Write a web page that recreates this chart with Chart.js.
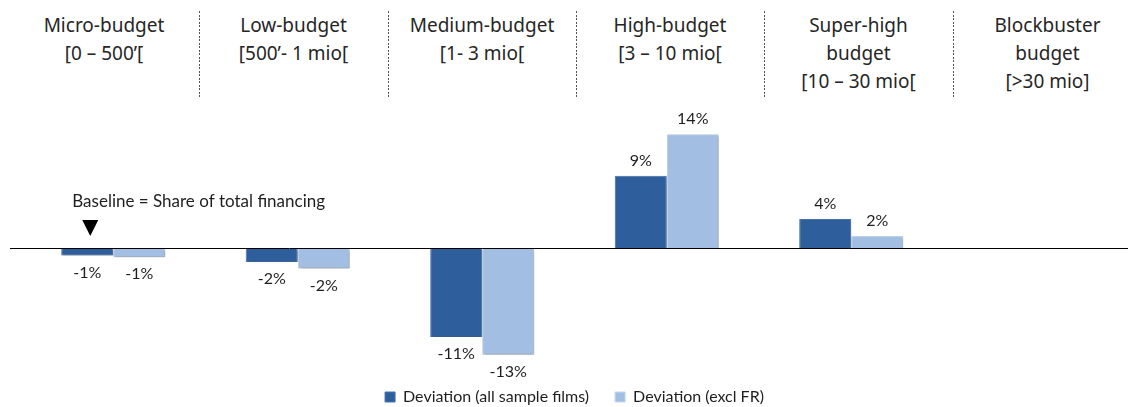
<!DOCTYPE html>
<html>
<head>
<meta charset="utf-8">
<script src="https://cdn.jsdelivr.net/npm/chart.js@4.4.1/dist/chart.umd.min.js"></script>
<style>
    html, body { margin: 0; padding: 0; width: 1128px; height: 407px; overflow: hidden; background: #fff; }
    #chartCanvas { position: absolute; left: 0; top: 0; }
    .hdr { position: absolute; top: 10.5px; text-align: center; font-family: "Noto Sans"; font-size: 19px; line-height: 28px; color: #262626; }
    .sep { position: absolute; top: 11px; width: 1px; height: 87px;
           background: repeating-linear-gradient(to bottom, #555 0 2px, transparent 2px 3.5px); }
</style>
</head>
<body>
<div id="header"></div>
<canvas id="chartCanvas" width="1128" height="415"></canvas>
<script>
// categories and their header text
const categories = ['Micro-budget', 'Low-budget', 'Medium-budget', 'High-budget', 'Super-high budget', 'Blockbuster budget'];
const headerLines = [
    ['Micro-budget', '[0 \u2013 500\u2019['],
    ['Low-budget', '[500\u2019- 1 mio['],
    ['Medium-budget', '[1- 3 mio['],
    ['High-budget', '[3 \u2013 10 mio['],
    ['Super-high', 'budget', '[10 \u2013 30 mio['],
    ['Blockbuster', 'budget', '[>30 mio]']
];

// deviation in percentage points
const devAllFilms = [-0.8, -1.6, -10.8, 9.0, 3.7, null];
const devExclFR = [-1.0, -2.4, -13.0, 14.1, 1.6, null];

const seriesNames = ['Deviation (all sample films)', 'Deviation (excl FR)'];
const baselineNote = 'Baseline = Share of total financing';

// header column edges (px)
const colEdges = [9, 199, 388, 576, 764, 953, 1142];

function buildHeader() {
    const hdr = document.getElementById('header');
    headerLines.forEach((lines, i) => {
        const d = document.createElement('div');
        d.className = 'hdr';
        d.style.left = colEdges[i] + 'px';
        d.style.width = (colEdges[i + 1] - colEdges[i]) + 'px';
        d.innerHTML = lines.join('<br>');
        hdr.appendChild(d);
        if (i > 0) {
            const s = document.createElement('div');
            s.className = 'sep';
            s.style.left = colEdges[i] + 'px';
            hdr.appendChild(s);
        }
    });
}

const shadowPlugin = {
    id: 'barShadow',
    beforeDatasetsDraw(chart) {
        const ctx = chart.ctx;
        ctx.save();
        ctx.shadowColor = 'rgba(0,0,0,0.35)';
        ctx.shadowBlur = 3;
        ctx.shadowOffsetX = 1;
        ctx.shadowOffsetY = 1;
    },
    afterDatasetsDraw(chart) {
        chart.ctx.restore();
    }
};

const overlayPlugin = {
    id: 'overlay',
    afterDatasetsDraw(chart) {
        const ctx = chart.ctx;
        const zero = chart.scales.y.getPixelForValue(0);

        // zero line
        ctx.save();
        ctx.strokeStyle = '#000';
        ctx.lineWidth = 1;
        ctx.beginPath();
        ctx.moveTo(10, Math.round(zero) - 0.5);
        ctx.lineTo(chart.width, Math.round(zero) - 0.5);
        ctx.stroke();

        // value labels
        ctx.font = '16px Lato';
        ctx.fillStyle = '#1e1e1e';
        ctx.textAlign = 'center';
        ctx.textBaseline = 'middle';
        chart.data.datasets.forEach((ds, di) => {
            chart.getDatasetMeta(di).data.forEach((bar, i) => {
                const v = ds.data[i];
                if (v === null) return;
                const y = v >= 0 ? bar.y - 15 : bar.y + 17;
                ctx.fillText(Math.round(v) + '%', bar.x, y);
            });
        });

        // baseline note with marker
        const first = chart.getDatasetMeta(0).data[0];
        const tx = first.x + 3;
        ctx.fillStyle = '#000';
        ctx.beginPath();
        ctx.moveTo(tx - 8, zero - 29);
        ctx.lineTo(tx + 8, zero - 29);
        ctx.lineTo(tx, zero - 13);
        ctx.closePath();
        ctx.fill();
        ctx.fillStyle = '#1e1e1e';
        ctx.textAlign = 'left';
        ctx.font = '17px Lato';
        ctx.fillText(baselineNote, tx - 18, zero - 48);
        ctx.restore();
    }
};

function initChart() {
    const ctx = document.getElementById('chartCanvas').getContext('2d');
    new Chart(ctx, {
        type: 'bar',
        data: {
            labels: categories,
            datasets: [{
                label: seriesNames[0],
                data: devAllFilms,
                backgroundColor: '#2f5e9d',
                borderColor: '#4674b2',
                borderWidth: 1
            }, {
                label: seriesNames[1],
                data: devExclFR,
                backgroundColor: '#a2bee2',
                borderColor: '#c3d6ef',
                borderWidth: 1
            }]
        },
        options: {
            responsive: false,
            animation: false,
            devicePixelRatio: 1,
            categoryPercentage: 0.564,
            barPercentage: 1.0,
            layout: { padding: { top: 127, left: 21, right: 0, bottom: 0 } },
            scales: {
                x: { display: false, grid: { display: false } },
                y: { display: false, min: -14, max: 15, grid: { display: false } }
            },
            plugins: {
                tooltip: { enabled: false },
                legend: {
                    position: 'bottom',
                    labels: {
                        boxWidth: 10,
                        boxHeight: 10,
                        padding: 26,
                        color: '#1e1e1e',
                        font: { family: 'Lato', size: 16 }
                    }
                }
            }
        },
        plugins: [shadowPlugin, overlayPlugin]
    });
}

buildHeader();
initChart();
</script>
</body>
</html>
